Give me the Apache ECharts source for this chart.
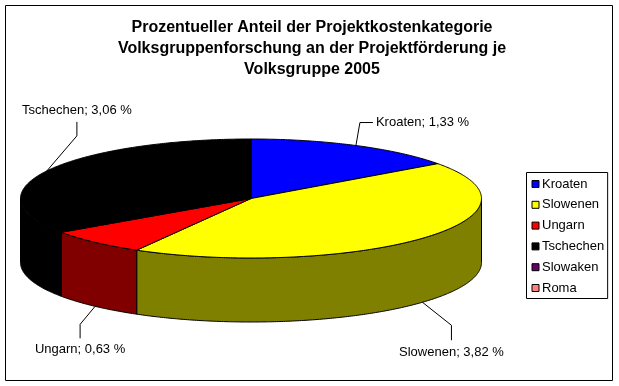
<!DOCTYPE html>
<html><head><meta charset="utf-8">
<style>html,body{margin:0;padding:0;background:#fff}#c{width:619px;height:386px}</style>
<script src="https://cdn.jsdelivr.net/npm/echarts@6/dist/echarts.min.js"></script>
</head><body><div id="c"></div>
<script>
const categories = ['Kroaten', 'Slowenen', 'Ungarn', 'Tschechen', 'Slowaken', 'Roma'];
const values = [1.33, 3.82, 0.63, 3.06, 0, 0];
const titleLines = ['Prozentueller Anteil der Projektkostenkategorie', 'Volksgruppenforschung an der Projektförderung je', 'Volksgruppe 2005'];
const topColors = ['#0000FF', '#FFFF00', '#FF0000', '#000000', '#660066', '#FF8080'];
const wallColors = ['#000080', '#808000', '#800000', '#000000', '#330033', '#804040'];

const FONT = '"Liberation Sans", Arial, sans-serif';
const PIE = { cx: 251, cy: 198.5, rx: 230.5, ry: 59.5, depth: 64 };
// leader-line bends relative to each slice's mid-angle rim point, and text placement
const LEADERS = {
  Kroaten:   { pts: [[4, -23], [17, -23]], text: [20, -23], align: 'left', onWall: false },
  Tschechen: { pts: [[30, -35], [30, -49]], text: [30, -60], align: 'center', onWall: false },
  Ungarn:    { pts: [[-15, 18], [-15, 32]], text: [-15, 43], align: 'center', onWall: true },
  Slowenen:  { pts: [[29, 23], [29, 38]], text: [29, 50], align: 'center', onWall: true }
};

const total = values.reduce((a, b) => a + b, 0);
const starts = [];
values.reduce((acc, v, i) => { starts[i] = acc; return acc + v; }, 0);
const toAngle = v => v / total * 2 * Math.PI;
const rim = (t, dy) => [PIE.cx + PIE.rx * Math.sin(t), PIE.cy - PIE.ry * Math.cos(t) + (dy || 0)];
function arc(a0, a1, dy) {
  const n = Math.max(2, Math.ceil(Math.abs(a1 - a0) / 0.01));
  const out = [];
  for (let i = 0; i <= n; i++) out.push(rim(a0 + (a1 - a0) * i / n, dy));
  return out;
}
const line = { stroke: '#000', lineWidth: 1 };

function renderTop(i) {
  return function () {
    if (!values[i]) return { type: 'group', children: [] };
    const a0 = toAngle(starts[i]), a1 = toAngle(starts[i] + values[i]);
    return { type: 'polygon', shape: { points: [[PIE.cx, PIE.cy]].concat(arc(a0, a1)) },
      style: Object.assign({ fill: topColors[i] }, line) };
  };
}
function renderWall(i) {
  return function () {
    const a0 = Math.max(toAngle(starts[i]), Math.PI / 2);
    const a1 = Math.min(toAngle(starts[i] + values[i]), Math.PI * 1.5);
    if (!values[i] || a1 <= a0) return { type: 'group', children: [] };
    return { type: 'polygon', shape: { points: arc(a0, a1).concat(arc(a1, a0, PIE.depth)) },
      style: Object.assign({ fill: wallColors[i] }, line) };
  };
}
function renderLabel(i) {
  return function () {
    const L = LEADERS[categories[i]];
    if (!L || !values[i]) return { type: 'group', children: [] };
    const mid = toAngle(starts[i] + values[i] / 2);
    const p = rim(mid, L.onWall ? PIE.depth : 0);
    const pts = [p].concat(L.pts.map(d => [p[0] + d[0], p[1] + d[1]]));
    const txt = categories[i] + '; ' + values[i].toFixed(2).replace('.', ',') + ' %';
    return { type: 'group', children: [
      { type: 'polyline', shape: { points: pts }, style: { stroke: '#000', lineWidth: 1, fill: null } },
      { type: 'text', style: { x: p[0] + L.text[0], y: p[1] + L.text[1], text: txt, fill: '#000',
        font: '13px ' + FONT, align: L.align, verticalAlign: 'middle' } }
    ] };
  };
}

const series = [];
categories.forEach((name, i) => {
  series.push({ type: 'custom', name, coordinateSystem: 'none', z: 3, silent: true, animation: false,
    itemStyle: { color: topColors[i] }, data: [values[i]], renderItem: renderTop(i) });
  series.push({ type: 'custom', name, coordinateSystem: 'none', z: 2, silent: true, animation: false,
    itemStyle: { color: topColors[i] }, data: [values[i]], renderItem: renderWall(i) });
  series.push({ type: 'custom', name: name + ' label', coordinateSystem: 'none', z: 4, silent: true, animation: false,
    data: [values[i]], renderItem: renderLabel(i) });
});

const chart = echarts.init(document.getElementById('c'), null, { renderer: 'canvas' });
chart.setOption({
  animation: false,
  backgroundColor: '#fff',
  graphic: [{ type: 'rect', silent: true, z: 0, shape: { x: 5.5, y: 5.5, width: 607, height: 375 },
    style: { fill: '#fff', stroke: '#000', lineWidth: 1 } }],
  title: { text: titleLines.join('\n'), left: 312, top: 17.5, textAlign: 'center', padding: 0,
    textStyle: { fontFamily: FONT, fontSize: 16, fontWeight: 'bold', color: '#000', lineHeight: 21 } },
  legend: { data: categories, orient: 'vertical', left: 526.5, top: 172.5,
    padding: [4.5, 3.5, 3.5, 5], itemGap: 6.8, itemWidth: 7, itemHeight: 7, icon: 'rect', selectedMode: false,
    borderColor: '#000', borderWidth: 1, backgroundColor: '#fff',
    itemStyle: { borderColor: '#000', borderWidth: 1 },
    textStyle: { fontFamily: FONT, fontSize: 13, color: '#000', padding: [0, 0, 0, -2], lineHeight: 14 } },
  series
});
</script></body></html>
